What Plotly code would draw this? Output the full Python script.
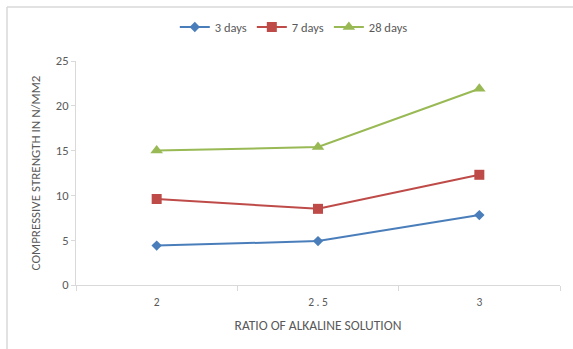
import plotly.graph_objects as go

# Ratio of alkaline solution (category labels) and compressive strength per curing age
ratios = ["2", "2 . 5", "3"]
days_3 = [4.4, 4.9, 7.8]
days_7 = [9.6, 8.5, 12.3]
days_28 = [15.0, 15.4, 21.9]

series_names = ["3 days", "7 days", "28 days"]
colors = ["#4a7ebb", "#be4b48", "#98b954"]
symbols = ["diamond", "square", "triangle-up"]
sizes = [8, 10, 11]

FONT = "Liberation Sans Narrow, Carlito, Arial Narrow, Liberation Sans, sans-serif"
TEXT = "#595959"
AXIS = "#d9d9d9"

W, H = 573, 349
ML, MR, MT, MB = 76, 13, 61, 64

fig = go.Figure()
for name, vals, c, s, sz in zip(series_names, [days_3, days_7, days_28], colors, symbols, sizes):
    fig.add_trace(go.Scatter(
        x=ratios, y=vals, name=name, mode="lines+markers",
        line=dict(color=c, width=2),
        marker=dict(symbol=s, size=sz, color=c, line=dict(width=0)),
    ))

# light frame along the top and left edges of the chart
pw, ph = W - ML - MR, H - MT - MB
def px_x(v):
    return (v - ML) / pw
def px_y(v):
    return (H - MB - v) / ph
fig.add_shape(type="line", xref="paper", yref="paper",
              x0=px_x(7), x1=px_x(W + 5), y0=px_y(7), y1=px_y(7),
              line=dict(color="#d9d9d9", width=1.5))
fig.add_shape(type="line", xref="paper", yref="paper",
              x0=px_x(7), x1=px_x(7), y0=px_y(7), y1=px_y(H + 5),
              line=dict(color="#d9d9d9", width=1.5))

fig.update_layout(
    width=W, height=H,
    margin=dict(l=ML, r=MR, t=MT, b=MB),
    paper_bgcolor="white", plot_bgcolor="white",
    font=dict(family=FONT, size=12, color=TEXT),
    showlegend=True,
    legend=dict(orientation="h", x=0.45, xanchor="center", y=1.15, yanchor="middle",
                font=dict(size=12.5, color=TEXT), itemwidth=30,
                bgcolor="rgba(0,0,0,0)", traceorder="normal"),
    xaxis=dict(type="category", tickson="boundaries", ticks="outside", ticklen=5,
               tickcolor=AXIS, showline=True, linecolor=AXIS, linewidth=1,
               showgrid=False, zeroline=False, range=[-0.5, 2.5],
               ticklabelstandoff=6,
               tickfont=dict(size=11.5, color=TEXT),
               title=dict(text="RATIO OF ALKALINE SOLUTION", font=dict(size=13.5, color=TEXT),
                          standoff=12)),
    yaxis=dict(range=[0, 25], dtick=5, ticks="outside", ticklen=4, tickcolor=AXIS,
               showline=True, linecolor=AXIS, linewidth=1, showgrid=False, zeroline=False,
               tickfont=dict(size=12.5, color=TEXT),
               title=dict(text="COMPRESSIVE STRENGTH IN N/MM2", font=dict(size=13, color=TEXT),
                          standoff=12)),
)

fig.write_html("out.html")
